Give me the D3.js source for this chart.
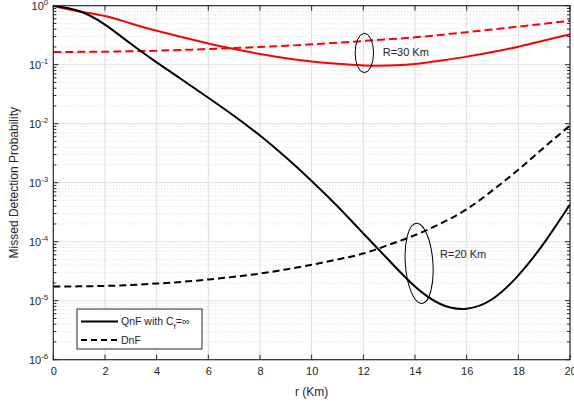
<!DOCTYPE html>
<html>
<head>
<meta charset="utf-8">
<script src="https://cdn.jsdelivr.net/npm/d3@7"></script>
<style>
    body { margin: 0; background: #fff; }
    text { font-family: "Liberation Sans", Arial, sans-serif; fill: #262626; }
    .grid { stroke: #dedede; stroke-width: 1; }
    .minor { stroke: #dcdcdc; stroke-width: 1; stroke-dasharray: 1, 2; }
</style>
</head>
<body>
<svg id="chart" width="574" height="407"></svg>
<script>
// distance r (Km)
var rKm = [0, 1, 2, 3, 4, 5, 6, 7, 8, 9, 10, 11, 12, 13, 14, 15, 16, 17, 18, 19, 20]

// R = 20 Km
var qnf20 = [1, 0.813, 0.479, 0.226, 0.1096, 0.055, 0.0275, 0.0135, 0.0063, 0.00269, 0.00107,
    3.98e-4, 1.38e-4, 4.79e-5, 1.74e-5, 8.7e-6, 7.33e-6, 1.07e-5, 2.69e-5, 9.55e-5, 4.27e-4]
var dnf20 = [1.74e-5, 1.75e-5, 1.78e-5, 1.84e-5, 1.95e-5, 2.09e-5, 2.29e-5, 2.54e-5, 2.88e-5, 3.39e-5, 4.07e-5,
    5.0e-5, 6.3e-5, 8.9e-5, 1.29e-4, 2.04e-4, 3.55e-4, 7.4e-4, 1.66e-3, 3.98e-3, 9.3e-3]

// R = 30 Km
var qnf30 = [1, 0.80, 0.668, 0.50, 0.375, 0.292, 0.229, 0.184, 0.152, 0.129, 0.1135,
    0.1035, 0.0973, 0.0966, 0.1027, 0.1175, 0.137, 0.164, 0.202, 0.257, 0.327]
var dnf30 = [0.164, 0.165, 0.166, 0.169, 0.1726, 0.178, 0.1845, 0.1914, 0.1995, 0.2094, 0.2213,
    0.2355, 0.2523, 0.2704, 0.2911, 0.32, 0.355, 0.395, 0.4416, 0.4955, 0.557]

var xTicks = [0, 2, 4, 6, 8, 10, 12, 14, 16, 18, 20]
var yExponents = [0, -1, -2, -3, -4, -5, -6]

// annotation ellipses
var notes = [
    { r: 12.04, p: 0.158, rx: 9.2, ry: 19.7, rot: 0, tr: 12.75, tp: 0.162, text: 'R=30 Km' },
    { r: 14.16, p: 4.3e-5, rx: 13.8, ry: 40.2, rot: -4, tr: 14.97, tp: 6.3e-5, text: 'R=20 Km' }
]

var margin = { left: 53.3, top: 5.7, right: 4, bottom: 47.3 }
var W = 574, H = 407
var svg = d3.select('#chart')

var x = d3.scaleLinear().domain([0, 20]).range([margin.left, W - margin.right])
var y = d3.scaleLog().domain([1e-6, 1]).range([H - margin.bottom, margin.top])

var g = svg.append('g')

// minor y grid (dotted)
var minorVals = []
yExponents.slice(1).forEach(function (e) {
    for (var k = 2; k <= 9; k++) minorVals.push(k * Math.pow(10, e))
})
g.selectAll('.minor')
    .data(minorVals)
    .enter()
    .append('line')
    .attr('class', 'minor')
    .attr('x1', x(0)).attr('x2', x(20))
    .attr('y1', function (d) { return y(d) }).attr('y2', function (d) { return y(d) })

// major grid
g.selectAll('.gy')
    .data(yExponents.slice(1, -1))
    .enter()
    .append('line')
    .attr('class', 'grid')
    .attr('x1', x(0)).attr('x2', x(20))
    .attr('y1', function (d) { return y(Math.pow(10, d)) })
    .attr('y2', function (d) { return y(Math.pow(10, d)) })

g.selectAll('.gx')
    .data(xTicks.slice(1, -1))
    .enter()
    .append('line')
    .attr('class', 'grid')
    .attr('x1', function (d) { return x(d) }).attr('x2', function (d) { return x(d) })
    .attr('y1', y(1e-6)).attr('y2', y(1))

// curves
var line = d3.line()
    .x(function (d) { return x(d[0]) })
    .y(function (d) { return y(d[1]) })
    .curve(d3.curveNatural)

var series = [
    { vals: qnf30, color: '#ff0000', dash: null },
    { vals: dnf30, color: '#ff0000', dash: '8,4' },
    { vals: qnf20, color: '#000000', dash: null },
    { vals: dnf20, color: '#000000', dash: '7,4' }
]

g.selectAll('.curve')
    .data(series)
    .enter()
    .append('path')
    .attr('class', 'curve')
    .attr('fill', 'none')
    .attr('stroke', function (d) { return d.color })
    .attr('stroke-width', 2)
    .attr('stroke-dasharray', function (d) { return d.dash })
    .attr('d', function (d) {
        return line(rKm.map(function (r, i) { return [r, d.vals[i]] }))
    })

// axes box
var axisCol = '#262626'
g.append('rect')
    .attr('x', x(0)).attr('y', y(1))
    .attr('width', x(20) - x(0)).attr('height', y(1e-6) - y(1))
    .attr('fill', 'none').attr('stroke', axisCol).attr('stroke-width', 1.2)

var ax = svg.append('g')
var axisX = d3.axisBottom(x).tickValues(xTicks).tickSize(0).tickPadding(8)
ax.append('g')
    .attr('transform', 'translate(0,' + y(1e-6) + ')')
    .call(axisX)
    .call(function (s) {
        s.select('.domain').remove()
        s.selectAll('text').attr('font-size', 11).attr('fill', axisCol)
            .attr('font-family', '"Liberation Sans", Arial, sans-serif')
    })

// inner ticks
xTicks.forEach(function (t) {
    ax.append('line').attr('x1', x(t)).attr('x2', x(t))
        .attr('y1', y(1e-6)).attr('y2', y(1e-6) - 5).attr('stroke', axisCol)
    ax.append('line').attr('x1', x(t)).attr('x2', x(t))
        .attr('y1', y(1)).attr('y2', y(1) + 5).attr('stroke', axisCol)
})
yExponents.forEach(function (e) {
    var yy = y(Math.pow(10, e))
    ax.append('line').attr('x1', x(0)).attr('x2', x(0) + 5).attr('y1', yy).attr('y2', yy).attr('stroke', axisCol)
    ax.append('line').attr('x1', x(20)).attr('x2', x(20) - 5).attr('y1', yy).attr('y2', yy).attr('stroke', axisCol)
})
minorVals.forEach(function (v) {
    var yy = y(v)
    ax.append('line').attr('x1', x(0)).attr('x2', x(0) + 3).attr('y1', yy).attr('y2', yy).attr('stroke', axisCol)
    ax.append('line').attr('x1', x(20)).attr('x2', x(20) - 3).attr('y1', yy).attr('y2', yy).attr('stroke', axisCol)
})

// y tick labels 10^e
var yl = ax.selectAll('.ylab')
    .data(yExponents)
    .enter()
    .append('text')
    .attr('class', 'ylab')
    .attr('x', x(0) - 5)
    .attr('y', function (d) { return y(Math.pow(10, d)) + 4 })
    .attr('text-anchor', 'end')
    .attr('font-size', 11)
yl.append('tspan').text('10')
yl.append('tspan')
    .attr('dy', -5)
    .attr('font-size', 8)
    .text(function (d) { return d === 0 ? '0' : '-' + (-d) })

// axis labels
svg.append('text')
    .attr('x', (x(0) + x(20)) / 2)
    .attr('y', 396)
    .attr('text-anchor', 'middle')
    .attr('font-size', 12)
    .text('r (Km)')

svg.append('text')
    .attr('transform', 'translate(18,' + ((y(1) + y(1e-6)) / 2) + ') rotate(-90)')
    .attr('text-anchor', 'middle')
    .attr('font-size', 12)
    .text('Missed Detection Probability')

// ellipse annotations
var ng = svg.selectAll('.note')
    .data(notes)
    .enter()
    .append('g')
    .attr('class', 'note')
ng.append('ellipse')
    .attr('transform', function (d) {
        return 'translate(' + x(d.r) + ',' + y(d.p) + ') rotate(' + d.rot + ')'
    })
    .attr('rx', function (d) { return d.rx })
    .attr('ry', function (d) { return d.ry })
    .attr('fill', 'none')
    .attr('stroke', '#000')
    .attr('stroke-width', 1)
ng.append('text')
    .attr('x', function (d) { return x(d.tr) })
    .attr('y', function (d) { return y(d.tp) + 4 })
    .attr('font-size', 11)
    .attr('fill', '#000')
    .text(function (d) { return d.text })

// legend
var lg = svg.append('g').attr('transform', 'translate(77,309)')
lg.append('rect')
    .attr('width', 125).attr('height', 40)
    .attr('fill', '#fff').attr('stroke', axisCol).attr('stroke-width', 1)
var items = [
    { dash: null, label: 'QnF with C' },
    { dash: '6,4', label: 'DnF' }
]
items.forEach(function (it, i) {
    var yy = 12.5 + i * 18.5
    lg.append('line')
        .attr('x1', 4).attr('x2', 41)
        .attr('y1', yy).attr('y2', yy)
        .attr('stroke', '#000').attr('stroke-width', 2)
        .attr('stroke-dasharray', it.dash)
    var t = lg.append('text')
        .attr('x', 44).attr('y', yy + 3.5)
        .attr('font-size', 10.5)
        .attr('fill', '#000')
    t.append('tspan').text(it.label)
    if (i === 0) {
        t.append('tspan').attr('dy', 4).attr('font-size', 8).text('f')
        t.append('tspan').attr('dy', -4).text('=\u221e')
    }
})
</script>
</body>
</html>
